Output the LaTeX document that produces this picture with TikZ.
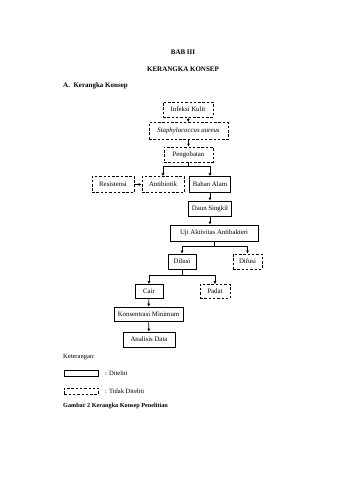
\documentclass[tikz,border=0pt]{standalone}
\usepackage{fontspec}
\setmainfont{Liberation Serif}
\usetikzlibrary{arrows.meta,positioning,calc}
\tikzset{
  box/.style={draw, line width=0.7pt, inner sep=0pt, align=center, font=\fontsize{6.8}{8}\selectfont},
  dbox/.style={box, dash pattern=on 2.5pt off 1.8pt},
  arr/.style={line width=0.6pt, -{Latex[length=3pt,width=3pt]}},
  ln/.style={line width=0.6pt},
  ttl/.style={font=\fontsize{7}{8}\selectfont\bfseries, inner sep=0pt},
  txt/.style={font=\fontsize{6.5}{8}\selectfont, inner sep=0pt, anchor=west}
}
\begin{document}
\begin{tikzpicture}[x=1pt,y=-1pt]
\useasboundingbox[fill=white] (0,0) rectangle (339,480);
% titles
\node[ttl] (bab) at (183,52) {BAB III};
\node[ttl] (ker) at (183,69) {KERANGKA KONSEP};
\node[ttl, anchor=west] (sub) at (63,86) {A.\ \ Kerangka Konsep};
% nodes
\node[dbox, minimum width=50, minimum height=15] (inf) at (188,109.5) {Infeksi Kulit};
\node[dbox, minimum width=79, minimum height=17] (sta) at (188.5,131) {\itshape Staphylococcus aureus};
\node[dbox, minimum width=49, minimum height=15] (peng) at (188.5,154.5) {Pengobatan};
\node[dbox, minimum width=42, minimum height=16] (res) at (113,184.5) {Resistensi};
\node[dbox, minimum width=42, minimum height=16] (anti) at (163,184.5) {Antibiotik};
\node[box, minimum width=41, minimum height=16] (bah) at (210,184.5) {Bahan Alam};
\node[box, minimum width=43, minimum height=15] (daun) at (210,208.5) {Daun Singkil};
\node[box, minimum width=88, minimum height=16] (uji) at (214,233) {Uji Aktivitas Antibakteri};
\node[box, minimum width=28, minimum height=15] (dil) at (182,261.5) {Dilusi};
\node[dbox, minimum width=29, minimum height=15] (dif) at (247.5,261.5) {Difusi};
\node[box, minimum width=28, minimum height=14] (cair) at (149,291.5) {Cair};
\node[dbox, minimum width=30, minimum height=14] (pad) at (215,291.5) {Padat};
\node[box, minimum width=69, minimum height=14] (kon) at (148.5,314) {Konsentrasi Minimum};
\node[box, minimum width=52, minimum height=15] (ana) at (149,339.5) {Analisis Data};
% connectors
\draw[arr] (inf) -- (sta);
\draw[arr] (sta) -- (peng);
\draw[arr] (peng.south) -- ++(0,4) -| (anti);
\draw[arr] (peng.south) -- ++(0,4) -| (bah);
\draw[arr] (res) -- (anti);
\draw[arr] (bah) -- (daun);
\draw[arr] (daun.south) -- (daun.south |- uji.north);
\draw[arr] (uji.south) -- ++(0,5) -| (dil);
\draw[arr] (uji.south) -- ++(0,5) -| (dif);
\draw[arr] (dil.south) -- ++(0,6) -| (cair);
\draw[arr] (dil.south) -- ++(0,6) -| (pad);
\draw[arr] (cair) -- (kon);
\draw[arr] (kon) -- (ana);
% legend
\node[txt] (ket) at (63,357) {Keterangan:};
\node[draw, line width=0.7pt, minimum width=34, minimum height=6, inner sep=0pt, anchor=west] (lg1) at (64,373) {};
\node[txt] (lt1) at (105,373) {: Diteliti};
\node[draw, line width=0.7pt, dash pattern=on 2.5pt off 1.8pt, minimum width=34, minimum height=6, inner sep=0pt, anchor=west] (lg2) at (64,391) {};
\node[txt] (lt2) at (105,391) {: Tidak Diteliti};
\node[txt, font=\fontsize{6.2}{8}\selectfont\bfseries] (cap) at (63,406) {Gambar 2 Kerangka Konsep Penelitian};
\end{tikzpicture}
\end{document}
